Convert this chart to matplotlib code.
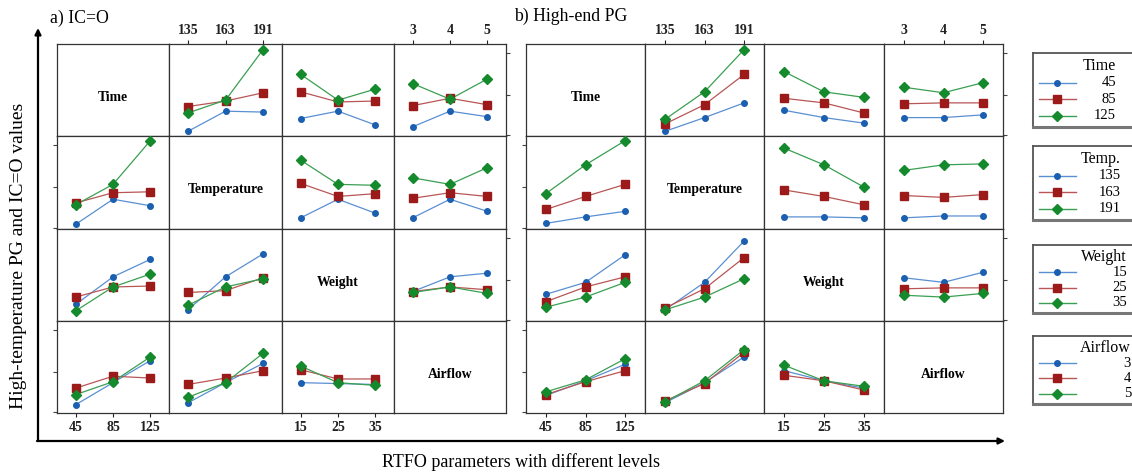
import matplotlib.pyplot as plt
from matplotlib.lines import Line2D

plt.rcParams['font.family'] = ['Liberation Serif', 'DejaVu Serif']

# 因子和水平
factors = ['Time', 'Temperature', 'Weight', 'Airflow']
legend_titles = ['Time', 'Temp.', 'Weight', 'Airflow']
time_lv = [45, 85, 125]
temp_lv = [135, 163, 191]
weight_lv = [15, 25, 35]
airflow_lv = [3, 4, 5]
levels = [time_lv, temp_lv, weight_lv, airflow_lv]

# a) IC=O  -- 每个单元: 行因子的三个水平(三条线) x 列因子的三个水平
a_time_temp = [[5, 27, 26], [32, 38, 47], [25, 39, 94]]
a_time_weight = [[19, 27, 12], [48, 37, 38], [67, 39, 51]]
a_time_air = [[10, 27, 21], [33, 41, 34], [57, 40, 62]]
a_temp_time = [[5, 32, 25], [28, 39, 40], [26, 48, 95]]
a_temp_weight = [[12, 32, 17], [49, 35, 38], [74, 48, 47]]
a_temp_air = [[12, 32, 19], [33, 39, 35], [55, 48, 66]]
a_weight_time = [[18, 48, 67], [26, 37, 38], [11, 37, 51]]
a_weight_temp = [[12, 48, 73], [31, 33, 47], [17, 37, 46]]
a_weight_air = [[32, 48, 52], [32, 37, 34], [31, 37, 30]]
a_air_time = [[9, 33, 57], [27, 40, 38], [20, 34, 61]]
a_air_temp = [[11, 33, 54], [31, 38, 46], [17, 33, 65]]
a_air_weight = [[33, 32, 31], [47, 37, 37], [51, 33, 30]]

# b) High-end PG
b_time_temp = [[5, 20, 36], [13, 34, 67], [18, 48, 94]]
b_time_weight = [[28, 20, 14], [41, 36, 25], [70, 48, 42]]
b_time_air = [[20, 20, 23], [35, 36, 36], [53, 47, 58]]
b_temp_time = [[6, 13, 19], [21, 35, 48], [38, 69, 95]]
b_temp_weight = [[13, 13, 12], [42, 35, 26], [87, 69, 45]]
b_temp_air = [[12, 14, 14], [36, 34, 37], [63, 69, 70]]
b_weight_time = [[29, 42, 72], [21, 37, 48], [15, 26, 42]]
b_weight_temp = [[12, 42, 87], [14, 35, 69], [12, 26, 46]]
b_weight_air = [[47, 42, 53], [35, 36, 36], [28, 26, 30]]
b_air_time = [[19, 35, 53], [20, 34, 46], [23, 36, 59]]
b_air_temp = [[11, 33, 61], [13, 32, 66], [12, 35, 69]]
b_air_weight = [[46, 35, 27], [41, 35, 25], [52, 35, 29]]

panel_a = {(0, 1): a_time_temp, (0, 2): a_time_weight, (0, 3): a_time_air,
           (1, 0): a_temp_time, (1, 2): a_temp_weight, (1, 3): a_temp_air,
           (2, 0): a_weight_time, (2, 1): a_weight_temp, (2, 3): a_weight_air,
           (3, 0): a_air_time, (3, 1): a_air_temp, (3, 2): a_air_weight}
panel_b = {(0, 1): b_time_temp, (0, 2): b_time_weight, (0, 3): b_time_air,
           (1, 0): b_temp_time, (1, 2): b_temp_weight, (1, 3): b_temp_air,
           (2, 0): b_weight_time, (2, 1): b_weight_temp, (2, 3): b_weight_air,
           (3, 0): b_air_time, (3, 1): b_air_temp, (3, 2): b_air_weight}

marker_cols = ['#1b5fb0', '#9c1a1a', '#158a2c']
line_cols = ['#5a8fd2', '#b85656', '#3a9f52']
markers = ['o', 's', 'D']
msizes = [4, 5.5, 5.5]

W, H = 1132, 474
fig = plt.figure(figsize=(W / 100, H / 100), dpi=100)


def rect(x0, y0, x1, y1):
    return [x0 / W, 1 - y1 / H, (x1 - x0) / W, (y1 - y0) / H]


def draw_panel(cells, cols, rows):
    for i in range(4):
        for j in range(4):
            ax = fig.add_axes(rect(cols[j], rows[i], cols[j + 1], rows[i + 1]))
            xs = levels[j]
            span = xs[-1] - xs[0]
            ax.set_xlim(xs[0] - 0.25 * span, xs[-1] + 0.25 * span)
            ax.set_ylim(0, 100)
            for s in ax.spines.values():
                s.set_color('#333333')
                s.set_linewidth(0.9)
            if i == j:
                ax.text(0.5, 0.42, factors[i], transform=ax.transAxes, ha='center',
                        va='center', fontsize=9.8, fontweight='bold')
            else:
                for k, ys in enumerate(cells[(i, j)]):
                    ax.plot(xs, ys, color=line_cols[k], lw=0.9, zorder=2)
                    ax.plot(xs, ys, ls='none', marker=markers[k], ms=msizes[k],
                            color=marker_cols[k], zorder=3)
            # x 刻度: 上面第2,4列, 下面第1,3列
            ax.set_xticks([])
            ax.set_yticks([])
            if i == 0 and j in (1, 3):
                ax.set_xticks(xs)
                ax.xaxis.set_ticks_position('top')
                ax.tick_params(axis='x', direction='out', length=3, pad=2,
                               labelsize=10, colors='#222222')
                for t in ax.get_xticklabels():
                    t.set_fontweight('bold')
            if i == 3 and j in (0, 2):
                ax.set_xticks(xs)
                ax.tick_params(axis='x', direction='out', length=3, pad=3,
                               labelsize=10, colors='#222222')
                for t in ax.get_xticklabels():
                    t.set_fontweight('bold')
            # y 刻度交替左右, 不带标签
            if (i % 2 == 1 and j == 0) or (i % 2 == 0 and j == 3):
                ax.set_yticks([1, 45, 90])
                ax.set_yticklabels([])
                if j == 3:
                    ax.yaxis.set_ticks_position('right')
                ax.tick_params(axis='y', direction='out', length=3, colors='#444444')


row_edges = [44, 136, 229, 321, 413]
draw_panel(panel_a, [57, 169, 282, 394, 506], row_edges)
draw_panel(panel_b, [526, 645, 764, 884, 1003], row_edges)

fig.text(50 / W, 1 - 18 / H, 'a) IC=O', fontsize=12.8, va='center', ha='left')
fig.text(514 / W, 1 - 16 / H, 'b) High-end PG', fontsize=12.8, va='center', ha='left')
fig.text(19 / W, 1 - 256 / H, 'High-temperature PG and IC=O values', rotation=90,
         fontsize=14, ha='center', va='center')
fig.text(521 / W, 1 - 462 / H, 'RTFO parameters with different levels',
         fontsize=13, ha='center', va='center')

# 坐标箭头
arrow = dict(arrowstyle='-|>', color='black', lw=1.6, mutation_scale=9,
             shrinkA=0, shrinkB=0)
fig.add_artist(plt.Annotation('', xy=(38 / W, 1 - 28 / H), xytext=(38 / W, 1 - 441 / H),
                              xycoords='figure fraction', textcoords='figure fraction',
                              arrowprops=arrow))
fig.add_artist(plt.Annotation('', xy=(1005 / W, 1 - 441 / H), xytext=(37 / W, 1 - 441 / H),
                              xycoords='figure fraction', textcoords='figure fraction',
                              arrowprops=arrow))

# 图例框 (右边被裁切)
leg_boxes = [(53, 127), (146, 220), (245, 313), (336, 404)]
leg_right = [1116, 1121, 1127, 1131]
bx0, bx1 = 1033, 1145
for n, (y0, y1) in enumerate(leg_boxes):
    lax = fig.add_axes(rect(bx0, y0, bx1, y1))
    lax.set_xlim(bx0, bx1)
    lax.set_ylim(y1, y0)
    lax.set_xticks([])
    lax.set_yticks([])
    for s in lax.spines.values():
        s.set_color('#555555')
        s.set_linewidth(1.3)
    lax.spines['bottom'].set_linewidth(2.2)
    lax.spines['bottom'].set_color('#777777')
    h = y1 - y0
    lax.text(leg_right[n], y0 + 0.18 * h, legend_titles[n], ha='right', va='center',
             fontsize=11.5)
    for k, lv in enumerate(levels[n]):
        yy = y0 + (0.40 + 0.225 * k) * h
        lax.add_line(Line2D([1039, 1076], [yy, yy], color=line_cols[k], lw=1.0))
        lax.add_line(Line2D([1057], [yy], marker=markers[k], ms=msizes[k],
                            color=marker_cols[k], ls='none'))
        lax.text(leg_right[n], yy, str(lv), ha='right', va='center', fontsize=10.5)

fig.savefig('out.png', dpi=100)
